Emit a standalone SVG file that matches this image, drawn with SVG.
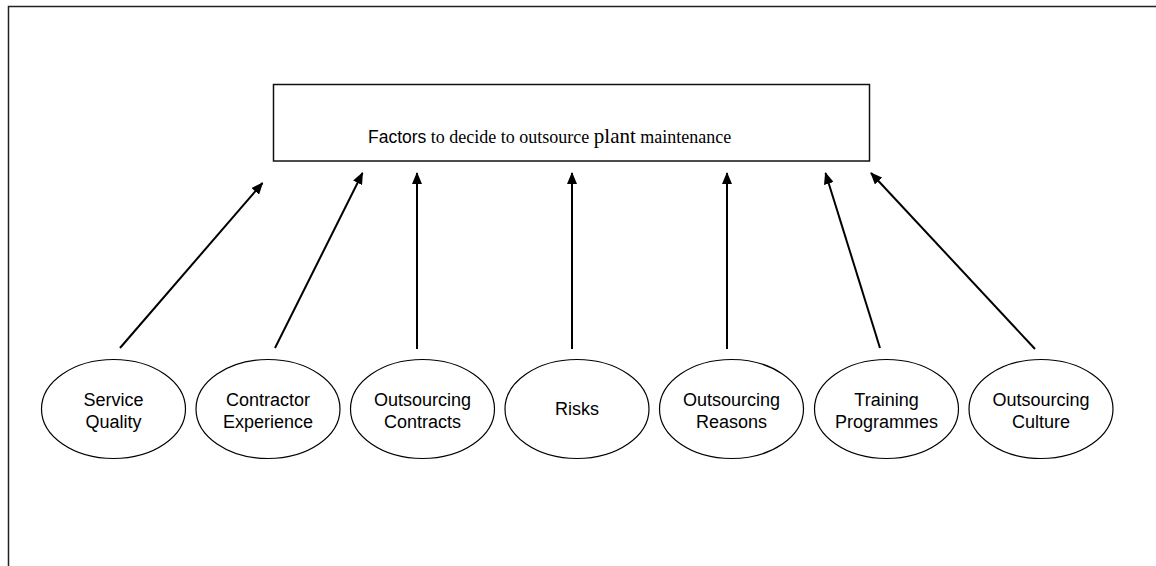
<svg xmlns="http://www.w3.org/2000/svg" width="1156" height="566" viewBox="0 0 1156 566">
  <style>
    .frame { fill: none; stroke: #222; stroke-width: 1.5; }
    .box { fill: #fff; stroke: #111; stroke-width: 1.5; }
    .node ellipse { fill: #fff; stroke: #000; stroke-width: 1.2; }
    .node text { font-family: "Liberation Sans", Arial, sans-serif; font-size: 18px; fill: #000; text-anchor: middle; }
    .conn line { stroke: #000; stroke-width: 2; marker-end: url(#head); }
    .serif { font-family: "Liberation Serif", "Times New Roman", serif; }
  </style>
  <defs>
    <marker id="head" viewBox="0 0 12 10" refX="11" refY="5" markerWidth="6" markerHeight="5" orient="auto" markerUnits="strokeWidth">
      <path d="M0,0 L12,5 L0,10 Z" fill="#000"/>
    </marker>
  </defs>
  <rect width="1156" height="566" fill="#fff"/>
  <!-- page frame: only the top and left edges fall inside the view -->
  <path class="frame" d="M8.5,566 V6.5 H1156"/>

  <g id="goal">
    <rect class="box" x="273.5" y="84.5" width="596" height="76.5"/>
    <text x="368" y="143" font-size="18" fill="#000"><tspan font-family="'Liberation Sans', Arial, sans-serif" font-size="17.5">Factors</tspan><tspan class="serif"> to decide to outsource </tspan><tspan class="serif" font-size="21">plant</tspan><tspan class="serif"> maintenance</tspan></text>
  </g>

  <g id="connectors" class="conn">
    <line x1="120" y1="348" x2="262.5" y2="183"/>
    <line x1="275" y1="348" x2="362.5" y2="173"/>
    <line x1="417" y1="349" x2="417" y2="173"/>
    <line x1="572" y1="349" x2="572" y2="173"/>
    <line x1="727" y1="349" x2="727" y2="173"/>
    <line x1="880" y1="348" x2="825.5" y2="173"/>
    <line x1="1035" y1="349" x2="871" y2="173"/>
  </g>

  <g id="service-quality" class="node">
    <ellipse cx="113.5" cy="409" rx="72" ry="49.5"/>
    <text x="113.5" y="406">Service</text>
    <text x="113.5" y="428">Quality</text>
  </g>
  <g id="contractor-experience" class="node">
    <ellipse cx="268" cy="409" rx="72" ry="49.5"/>
    <text x="268" y="406">Contractor</text>
    <text x="268" y="428">Experience</text>
  </g>
  <g id="outsourcing-contracts" class="node">
    <ellipse cx="422.5" cy="409" rx="72" ry="49.5"/>
    <text x="422.5" y="406">Outsourcing</text>
    <text x="422.5" y="428">Contracts</text>
  </g>
  <g id="risks" class="node">
    <ellipse cx="577" cy="409" rx="72" ry="49.5"/>
    <text x="577" y="415">Risks</text>
  </g>
  <g id="outsourcing-reasons" class="node">
    <ellipse cx="731.5" cy="409" rx="72" ry="49.5"/>
    <text x="731.5" y="406">Outsourcing</text>
    <text x="731.5" y="428">Reasons</text>
  </g>
  <g id="training-programmes" class="node">
    <ellipse cx="886.5" cy="409" rx="72" ry="49.5"/>
    <text x="886.5" y="406">Training</text>
    <text x="886.5" y="428">Programmes</text>
  </g>
  <g id="outsourcing-culture" class="node">
    <ellipse cx="1041" cy="409" rx="72" ry="49.5"/>
    <text x="1041" y="406">Outsourcing</text>
    <text x="1041" y="428">Culture</text>
  </g>
</svg>
